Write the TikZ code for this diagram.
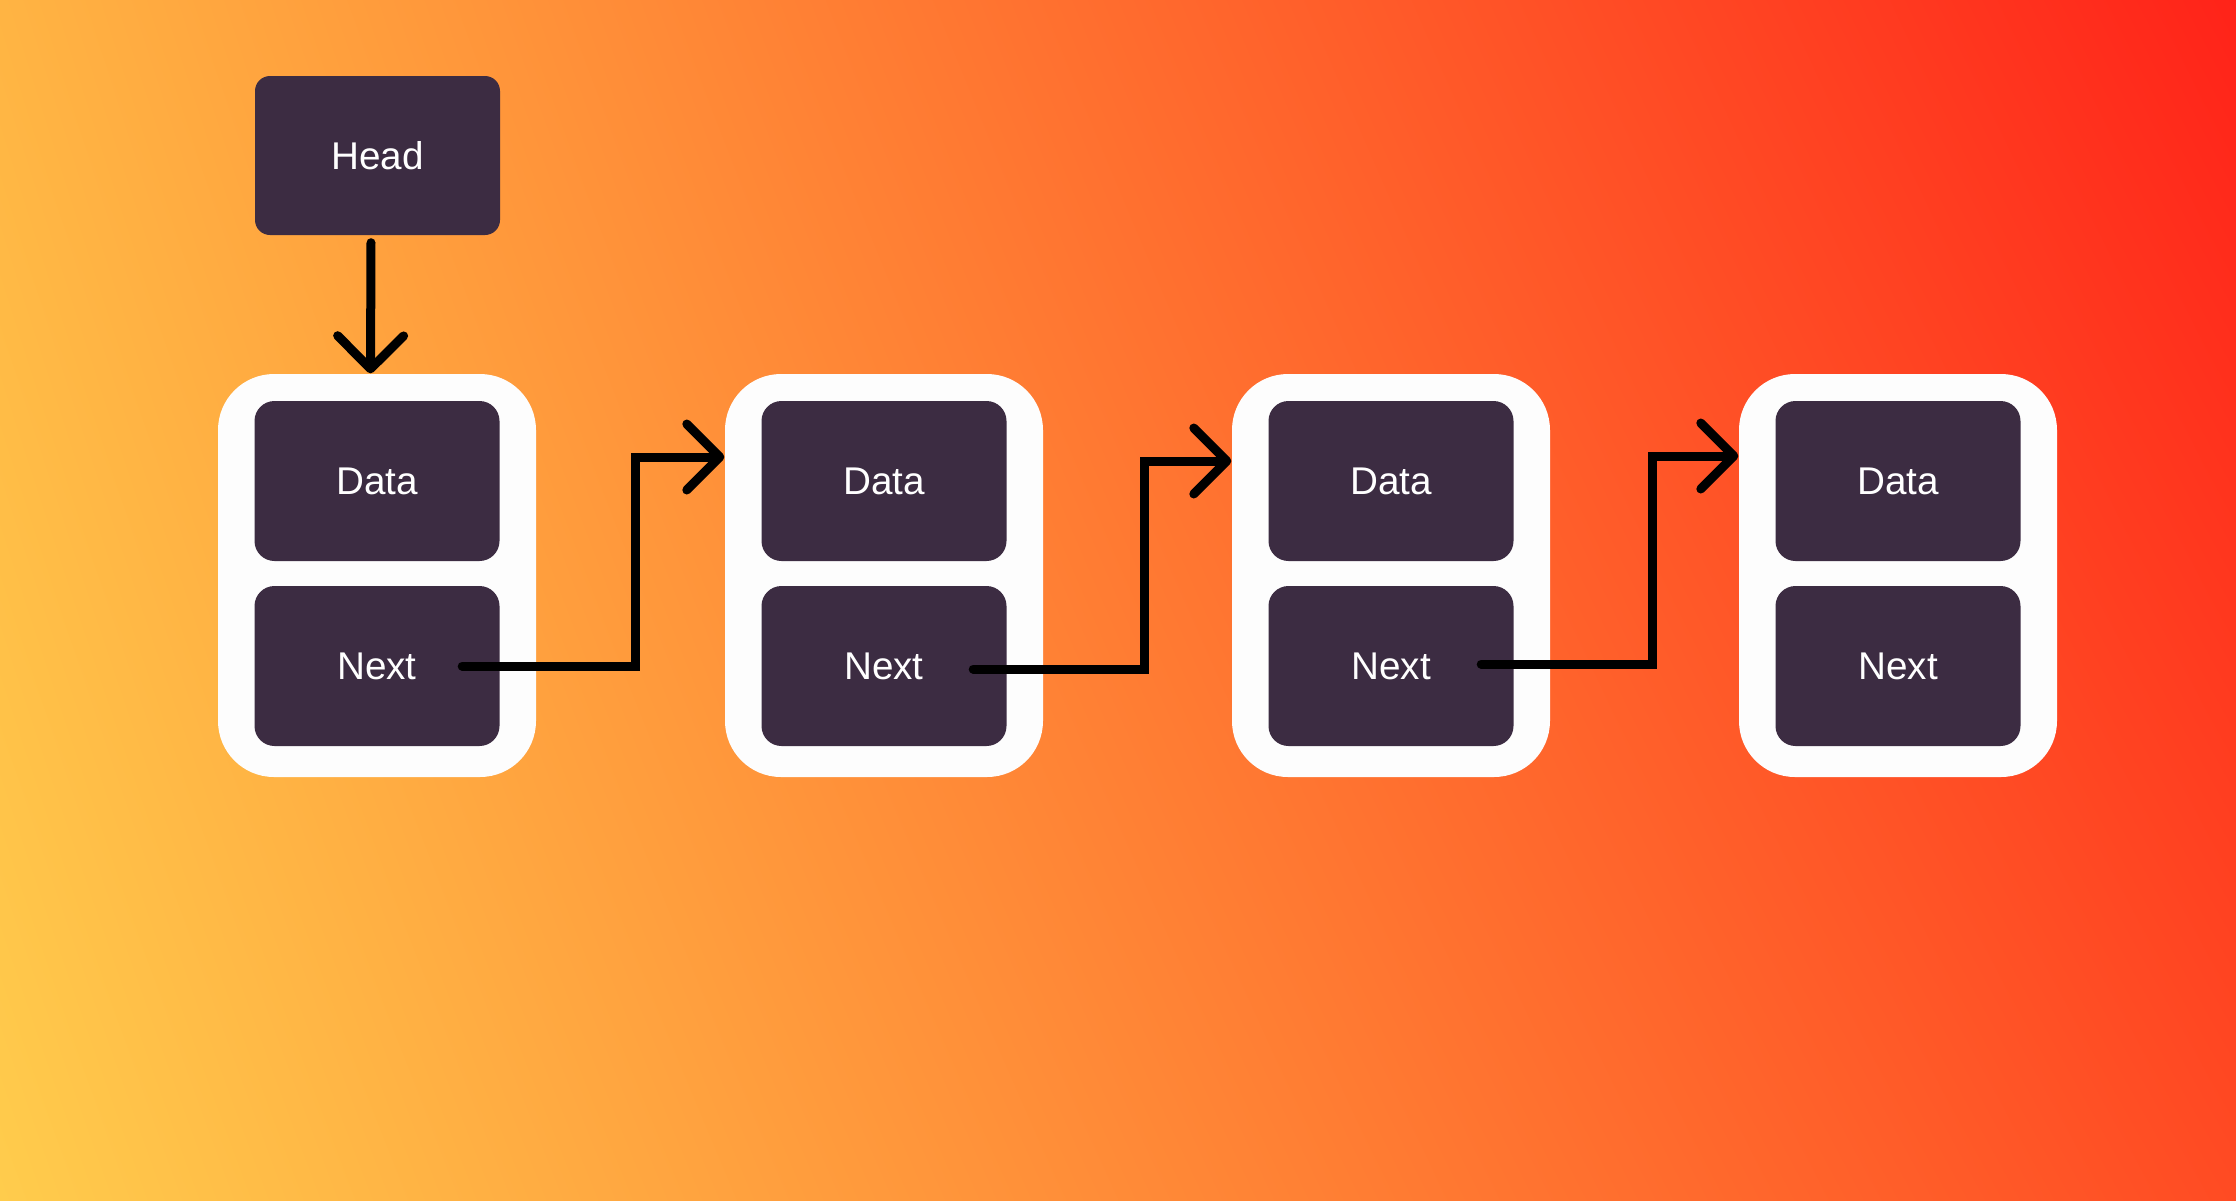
\documentclass[tikz,border=0pt]{standalone}
\usepackage{fontspec}
\setmainfont{Liberation Sans}
\usetikzlibrary{arrows.meta,shadings}
\definecolor{bgul}{HTML}{FFB443}
\definecolor{bgur}{HTML}{FF2319}
\definecolor{bgll}{HTML}{FFCC4C}
\definecolor{bglr}{HTML}{FF4B23}
\definecolor{boxfill}{HTML}{3C2C42}
\definecolor{cellfill}{HTML}{FDFDFD}
\begin{document}
\begin{tikzpicture}[
    cell/.style={rounded corners=0.56cm, fill=cellfill,
      minimum width=3.18cm, minimum height=4.03cm},
    field/.style={rounded corners=0.2cm, fill=boxfill, text=white,
      minimum width=2.45cm, minimum height=1.6cm,
      font=\fontsize{11}{13}\selectfont},
    link/.style={line width=0.9mm, line cap=round,
      -{Straight Barb[length=3.3mm,width=6.6mm,round]}}
  ]
  \shade[upper left=bgul, upper right=bgur, lower left=bgll, lower right=bglr]
    (0,0) rectangle (22.36,-12);
  \useasboundingbox (0,0) rectangle (22.36,-12);
  % head pointer
  \node[field, rounded corners=0.15cm, minimum height=1.59cm] (head) at (3.775,-1.555) {Head};
  % list cells
  \node[cell] (cell1) at (3.77,-5.755) {};
  \node[cell] (cell2) at (8.84,-5.755) {};
  \node[cell] (cell3) at (13.91,-5.755) {};
  \node[cell] (cell4) at (18.98,-5.755) {};
  \node[field] (data1) at ([yshift=0.945cm]cell1.center) {Data};
  \node[field] (next1) at ([yshift=-0.905cm]cell1.center) {Next};
  \node[field] (data2) at ([yshift=0.945cm]cell2.center) {Data};
  \node[field] (next2) at ([yshift=-0.905cm]cell2.center) {Next};
  \node[field] (data3) at ([yshift=0.945cm]cell3.center) {Data};
  \node[field] (next3) at ([yshift=-0.905cm]cell3.center) {Next};
  \node[field] (data4) at ([yshift=0.945cm]cell4.center) {Data};
  \node[field] (next4) at ([yshift=-0.905cm]cell4.center) {Next};
  % where the links come in
  \coordinate (in2) at ([yshift=1.185cm]cell2.west);
  \coordinate (in3) at ([yshift=1.145cm]cell3.west);
  \coordinate (in4) at ([yshift=1.195cm]cell4.west);
  \draw[link] ([shift={(-0.065,-0.07)}]head.south) -- ([xshift=-0.065cm]cell1.north);
  \draw[link] ([xshift=-0.38cm]next1.east) -| ([xshift=0.99cm]cell1.east |- in2) -- (in2);
  \draw[link] ([shift={(-0.34,-0.03)}]next2.east) -| ([xshift=1.01cm]cell2.east |- in3) -- (in3);
  \draw[link] ([shift={(-0.33,0.02)}]next3.east) -| ([xshift=1.02cm]cell3.east |- in4) -- (in4);
\end{tikzpicture}
\end{document}
